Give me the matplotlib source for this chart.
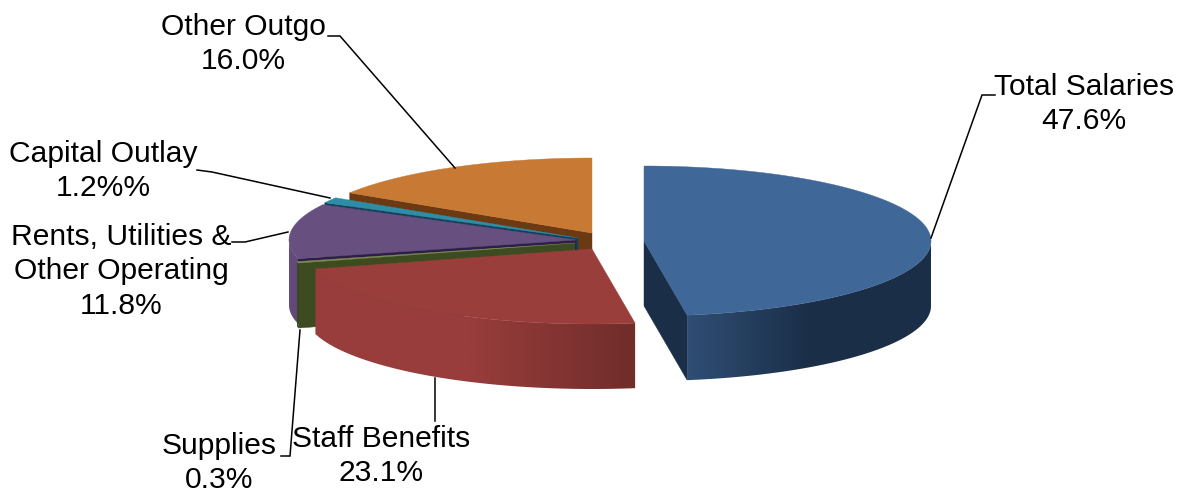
import numpy as np
import matplotlib
matplotlib.use("Agg")
import matplotlib.pyplot as plt
from matplotlib.colors import to_rgb
from matplotlib.patches import Polygon

plt.rcParams['font.family'] = ['Liberation Sans', 'DejaVu Sans']

# data, clockwise from 12 o'clock
categories = ['Total Salaries', 'Staff Benefits', 'Supplies',
              'Rents, Utilities &\nOther Operating', 'Capital Outlay', 'Other Outgo']
shares = [47.6, 23.1, 0.3, 11.8, 1.2, 16.0]
share_labels = ['47.6%', '23.1%', '0.3%', '11.8%', '1.2%%', '16.0%']

# exploded slice centres, in pixels
centres = [(644, 241), (592, 249), (575, 243), (576, 240), (578, 238), (592, 233)]
RX, RY, DEPTH = 287, 75, 65

top_colors = ['#3f6797', '#9a3e3c', '#7f8f52', '#674f80', '#2f8ca6', '#c87a35']
cut_colors = ['#1b2e48', '#722e2c', '#3d4b20', '#2e1e49', '#13405a', '#6b3a12']
# outer wall shading: colour at x0 going to colour at x1
wall_shades = [('#2f4e74', '#1b2e48', 688, 810),
               ('#983d3b', '#702d2b', 470, 634),
               ('#3d4b20', '#3d4b20', 0, 1),
               ('#654c7e', '#5f4776', 287, 300),
               ('#13405a', '#13405a', 0, 1),
               ('#6b3a12', '#6b3a12', 0, 1)]

# text centre x, first line y, leader line
label_pos = [(1084, 87), (381, 439), (219, 446), (121, 237), (103, 154), (243, 27)]
leaders = [[(931, 238), (982, 95), (995, 95)],
           [(435, 378), (435, 421)],
           [(300, 330), (290, 456), (281, 456)],
           [(288, 232), (245, 242), (232, 242)],
           [(330, 198), (212, 172), (197, 170)],
           [(455, 168), (340, 36), (328, 36)]]

LINE_H = 34.3

fig = plt.figure(figsize=(11.8, 4.93), dpi=100)
ax = fig.add_axes([0, 0, 1, 1])
ax.axis('off')


def rim(cx, cy, a0, a1, n=120):
    a = np.radians(np.linspace(a0, a1, n))
    return cx + RX * np.sin(a), cy - RY * np.cos(a)


def cut_wall(cx, cy, angle, color, z):
    x, y = rim(cx, cy, angle, angle, 1)
    pts = [(cx, cy), (x[0], y[0]), (x[0], y[0] + DEPTH), (cx, cy + DEPTH)]
    ax.add_patch(Polygon(pts, closed=True, fc=color, ec=color, lw=0.3, zorder=z))


def outer_wall(cx, cy, a0, a1, shade, z):
    # only the front half of the rim can be seen
    lo, hi = max(a0, 90), min(a1, 270)
    if hi <= lo:
        return
    c0, c1, x0, x1 = shade
    c0, c1 = np.array(to_rgb(c0)), np.array(to_rgb(c1))
    x, y = rim(cx, cy, lo, hi)
    pts = list(zip(x, y)) + list(zip(x[::-1], y[::-1] + DEPTH))
    clip = Polygon(pts, closed=True, fc='none', ec='none', zorder=z)
    ax.add_patch(clip)
    # horizontal shading, clipped to the wall outline
    left, right = x.min() - 1, x.max() + 1
    xs = np.arange(left, right + 1)
    t = np.clip((xs - x0) / (x1 - x0), 0, 1)[None, :, None]
    im = ax.imshow(c0 + (c1 - c0) * t, extent=[left, right, y.max() + DEPTH + 1, y.min() - 1],
                   aspect='auto', zorder=z, interpolation='bilinear')
    im.set_clip_path(clip)


# angles come from the shares
ends = np.cumsum(shares) / np.sum(shares) * 360
starts = np.concatenate([[0], ends[:-1]])

# painter's order: back slices first, blue last
for z, i in enumerate([5, 4, 3, 2, 1, 0]):
    cx, cy = centres[i]
    a0, a1 = starts[i], ends[i]
    base = z * 10 + 1
    if -np.sin(np.radians(a0)) > 0.01:
        cut_wall(cx, cy, a0, cut_colors[i], base)
    if np.sin(np.radians(a1)) > 0.01:
        cut_wall(cx, cy, a1, cut_colors[i], base)
    outer_wall(cx, cy, a0, a1, wall_shades[i], base + 1)
    x, y = rim(cx, cy, a0, a1)
    pts = [(cx, cy)] + list(zip(x, y))
    ax.add_patch(Polygon(pts, closed=True, fc=top_colors[i], ec=top_colors[i],
                         lw=0.3, zorder=base + 2))

for i, name in enumerate(categories):
    tx, ty = label_pos[i]
    lines = name.split('\n') + [share_labels[i]]
    for k, line in enumerate(lines):
        ax.text(tx, ty + k * LINE_H, line, ha='center', va='center',
                fontsize=21.6, color='black', zorder=100)
    lx, ly = zip(*leaders[i])
    ax.plot(lx, ly, color='black', lw=1.1, zorder=90, solid_joinstyle='miter')

ax.set_xlim(0, 1180)
ax.set_ylim(493, 0)

fig.savefig('out.png', dpi=100)
